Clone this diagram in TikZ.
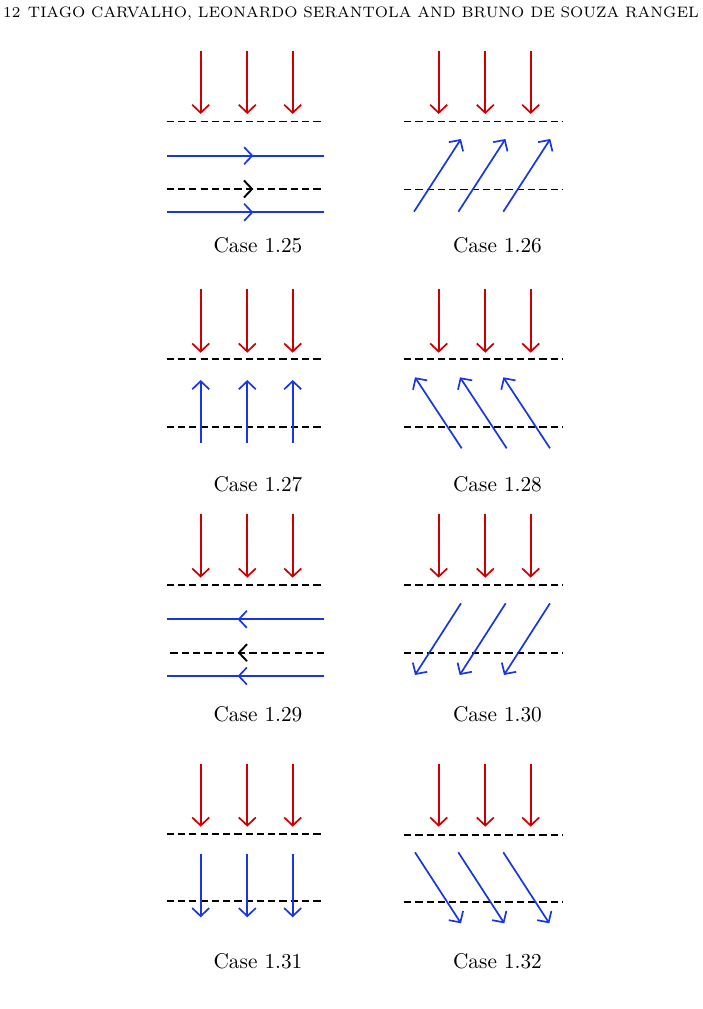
\documentclass[tikz,border=0pt]{standalone}
\usepackage{tikz}
\usetikzlibrary{arrows.meta, decorations.markings}
\definecolor{incred}{RGB}{204,0,0}
\definecolor{flowblue}{RGB}{25,55,225}

\begin{document}
\begin{tikzpicture}[x=0.47pt, y=-0.47pt, line width=0.8pt,
    >={Straight Barb[length=3.8pt,width=8pt]},
    wall/.style={line width=0.9pt, dash pattern=on 3.4pt off 1.9pt},
    incid/.style={->, incred},
    orbit/.style={->, flowblue},
    midarr/.style={postaction={decorate}, decoration={markings, mark=at position 0.55 with {\arrow{>}}}}]
    % page frame and running head
    \useasboundingbox (0,0) rectangle (702,1009);
    \node (head) [anchor=base, inner sep=0pt] at (351,17.3)
        {\fontsize{7.1}{8}\selectfont 12\enspace TIAGO CARVALHO, LEONARDO SERANTOLA AND BRUNO DE SOUZA RANGEL};

    % incoming red arrows above every upper wall
    \foreach \ya/\yb [count=\r] in {51/114, 289/352.7, 514.3/577.7, 764/826.7} {
        \foreach \x [count=\i] in {200.7,247.3,292.7,438.7,485.3,530.7} {
            \coordinate (s\r\i) at (\x,\ya);
            \coordinate (t\r\i) at (\x,\yb);
            \draw[incid] (s\r\i) -- (t\r\i);
        }
    }

    % plain dashed walls
    \foreach \y [count=\i] in {121.5, 359.3, 426.7, 585.3, 834, 901} {
        \coordinate (lw\i a) at (166.7,\y);
        \coordinate (lw\i b) at (324.3,\y);
        \draw[wall] (lw\i a) -- (lw\i b);
    }
    \foreach \y [count=\i] in {121.5, 189.5, 359.3, 426.7, 585.3, 653, 834.7, 902} {
        \coordinate (rw\i a) at (404,\y);
        \coordinate (rw\i b) at (563,\y);
        \draw[wall] (rw\i a) -- (rw\i b);
    }

    % case labels
    \foreach \y/\a/\b in {252/25/26, 491.7/27/28, 721.7/29/30, 968.3/31/32} {
        \node (c\a) [anchor=base] at (258,\y) {Case 1.\a};
        \node (c\b) [anchor=base] at (497.5,\y) {Case 1.\b};
    }

    % Case 1.25
    \foreach \y [count=\i] in {155.7, 189, 212.3} {
        \coordinate (p\i a) at (166.7,\y);
        \coordinate (p\i b) at (324.3,\y);
    }
    \draw[flowblue, midarr] (p1a) -- (p1b);
    \draw[wall, midarr] (p2a) -- (p2b);
    \draw[flowblue, midarr] (p3a) -- (p3b);

    % Case 1.26
    \foreach \x [count=\i] in {414, 458.4, 503.3} {
        \coordinate (u\i) at (\x,211.7);
        \coordinate (v\i) at (\x+47,139);
        \draw[orbit] (u\i) -- (v\i);
    }

    % Case 1.27
    \foreach \x [count=\i] in {200.7, 247.3, 292.7} {
        \coordinate (e\i) at (\x,443.3);
        \coordinate (f\i) at (\x,380);
        \draw[orbit] (e\i) -- (f\i);
    }

    % Case 1.28
    \foreach \x [count=\i] in {461.7, 506.7, 550} {
        \coordinate (g\i) at (\x,448.3);
        \coordinate (h\i) at (\x-46.7,377.3);
        \draw[orbit] (g\i) -- (h\i);
    }

    % Case 1.29
    \foreach \y [count=\i] in {619.3, 652.7, 676} {
        \coordinate (q\i a) at (324.3,\y);
        \coordinate (q\i b) at (166.7,\y);
    }
    \draw[flowblue, midarr] (q1a) -- (q1b);
    \draw[wall, midarr] (q2a) -- (q2b);
    \draw[flowblue, midarr] (q3a) -- (q3b);

    % Case 1.30
    \foreach \x [count=\i] in {461, 505.7, 550} {
        \coordinate (k\i) at (\x,603.3);
        \coordinate (m\i) at (\x-46,675);
        \draw[orbit] (k\i) -- (m\i);
    }

    % Case 1.31
    \foreach \x [count=\i] in {200.7, 247.3, 292.7} {
        \coordinate (n\i) at (\x,854);
        \coordinate (o\i) at (\x,917.3);
        \draw[orbit] (n\i) -- (o\i);
    }

    % Case 1.32
    \foreach \x [count=\i] in {415, 458.3, 503.3} {
        \coordinate (w\i) at (\x,852.3);
        \coordinate (z\i) at (\x+46,923.3);
        \draw[orbit] (w\i) -- (z\i);
    }
\end{tikzpicture}
\end{document}
